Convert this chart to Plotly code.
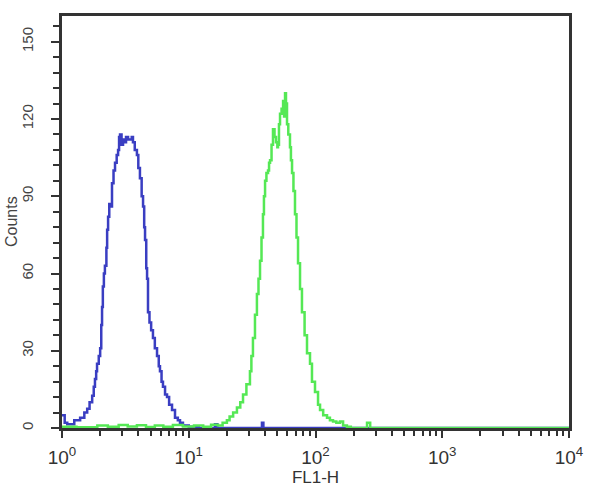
import plotly.graph_objects as go

# Blue histogram (control) : FL1-H value, counts
blue_x = [1.0, 1.05, 1.1, 1.25, 1.39, 1.5, 1.58, 1.65, 1.73, 1.78, 1.82, 1.86, 1.89, 1.95,
          2.0, 2.04, 2.07, 2.1, 2.14, 2.18, 2.24, 2.27, 2.31, 2.36, 2.44, 2.48, 2.55, 2.62,
          2.70, 2.77, 2.82, 2.87, 2.95, 3.03, 3.1, 3.2, 3.32, 3.45, 3.55, 3.63, 3.75, 3.9,
          4.0, 4.12, 4.25, 4.36, 4.45, 4.52, 4.62, 4.69, 4.77, 4.9, 5.05, 5.22, 5.4, 5.62,
          5.8, 5.93, 6.1, 6.26, 6.5, 6.74, 7.0, 7.38, 7.79, 8.2, 8.53, 9.0, 10.0, 12.0,
          15.5, 16.1, 16.8, 37.0, 37.8, 38.8, 150.0, 10000.0]
blue_y = [5, 2, 1.5, 3, 4, 6, 7.5, 10, 12.5, 16, 19, 22, 25, 28,
          31, 40, 47, 55, 60, 63, 70, 77, 82, 87, 86, 95, 100, 103,
          106, 108, 113, 114, 110, 112, 111, 113, 112, 112, 113, 111, 108, 106,
          101, 97, 90, 86, 78, 73, 62, 58, 45, 41, 38, 35, 31, 28,
          24, 22, 18, 16, 13, 12, 9, 7, 4, 3, 2, 1, 0.5, 0,
          0, 1.5, 0, 0, 2, 0, 0, 0]

# Green histogram (antibody) : FL1-H value, counts
green_x = [1.0, 1.3, 1.9, 2.3, 2.8, 3.3, 3.9, 4.6, 5.4, 6.3, 7.5, 9.0, 11.0, 13.0, 15.0,
           17.0, 18.5, 20.0, 21.0, 22.4, 24.0, 25.5, 26.8, 28.5, 30.4, 31.2, 32.1, 33.3,
           34.5, 35.5, 36.5, 37.5, 38.5, 39.2, 40.0, 41.0, 42.2, 43.0, 43.8, 45.0, 46.2,
           47.5, 48.8, 50.0, 50.6, 51.5, 52.5, 54.0, 55.5, 56.5, 57.5, 58.5, 59.6, 61.0,
           62.9, 64.0, 65.3, 67.0, 68.9, 70.8, 72.8, 75.5, 78.2, 82.0, 85.7, 90.5, 93.8,
           99.1, 104.7, 108.6, 115.0, 123.3, 130.0, 137.5, 146.0, 156.0, 165.0, 177.0,
           190.0, 240.0, 255.0, 270.0, 10000.0]
green_y = [0.5, 0.3, 1.0, 0.5, 1.2, 0.6, 1.1, 0.4, 1.0, 0.5, 1.2, 0.6, 1.0, 0.5, 1.3,
           1, 2, 3, 4.5, 6, 8, 10, 13, 17, 22, 28, 35, 44,
           52, 58, 65, 74, 83, 90, 96, 99, 100, 103, 104, 110, 116,
           113, 111, 109, 110, 118, 122, 124, 127, 121, 130, 126, 118, 114,
           109, 104, 99, 92, 83, 74, 64, 54, 45, 36, 29, 25, 18,
           14, 9, 7, 5, 4, 3, 2.5, 2, 2.5, 1, 0.5,
           0, 0, 2, 0, 0]

x_tickvals = [1, 10, 100, 1000, 10000]
x_ticktext = ["10<sup>0</sup>", "10<sup>1</sup>", "10<sup>2</sup>", "10<sup>3</sup>", "10<sup>4</sup>"]
y_tickvals = [0, 30, 60, 90, 120, 150]
x_title = "FL1-H"
y_title = "Counts"

minor_x = [m * d for d in (1, 10, 100, 1000) for m in range(2, 10)]

fig = go.Figure()
fig.add_trace(go.Scatter(x=blue_x, y=blue_y, mode="lines", line=dict(color="#3a3ec2", width=2.5, shape="hv"),
                         showlegend=False))
fig.add_trace(go.Scatter(x=green_x, y=green_y, mode="lines", line=dict(color="#55e855", width=2.5, shape="hv"),
                         showlegend=False))

axis_font = dict(family="Liberation Sans, Arial, sans-serif", color="#333333")

fig.update_layout(
    width=600, height=492,
    margin=dict(l=62, r=31, t=16, b=64),
    paper_bgcolor="white", plot_bgcolor="white",
    font=axis_font,
    xaxis=dict(
        type="log", range=[0, 4], automargin=False,
        tickvals=x_tickvals, ticktext=x_ticktext,
        tickfont=dict(size=19, color="#333333"),
        ticks="outside", ticklen=7, tickwidth=2, tickcolor="#333333",
        ticklabelstandoff=3,
        minor=dict(tickvals=minor_x, ticks="outside", ticklen=5, tickwidth=2, tickcolor="#333333"),
        showgrid=False, zeroline=False,
        showline=True, linecolor="#333333", linewidth=2.5, mirror=True,
        title=dict(text=x_title, font=dict(size=17, color="#333333"), standoff=5),
    ),
    yaxis=dict(
        range=[0, 160], automargin=False,
        tickvals=y_tickvals,
        tickangle=-90,
        tickfont=dict(size=15, color="#444444"),
        ticks="outside", ticklen=8, tickwidth=2, tickcolor="#333333",
        ticklabelstandoff=12,
        minor=dict(dtick=6, tick0=0, ticks="outside", ticklen=6, tickwidth=2, tickcolor="#333333"),
        showgrid=False, zeroline=False,
        showline=True, linecolor="#333333", linewidth=2.5, mirror=True,
    ),
    annotations=[dict(text=y_title, xref="paper", yref="paper", x=0, y=0.5,
                      xanchor="center", yanchor="middle", xshift=-51, textangle=-90,
                      showarrow=False, font=dict(size=16, color="#444444"))],
)

fig.write_html("out.html", config={"displayModeBar": False},
               post_script="document.body.style.margin='0';document.body.style.padding='0';")
